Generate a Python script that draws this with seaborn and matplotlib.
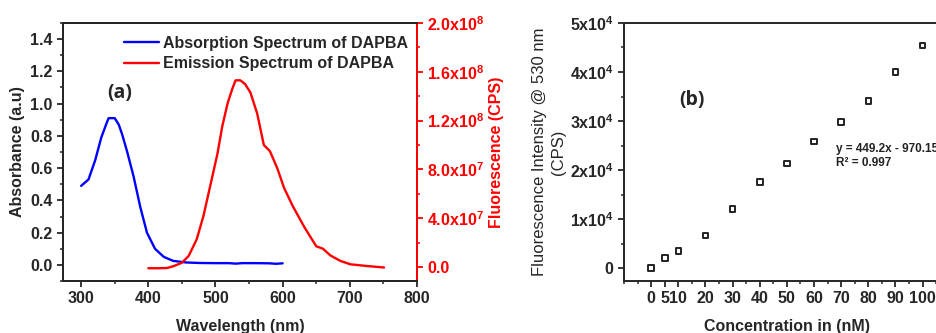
import matplotlib
matplotlib.use("Agg")
import matplotlib.pyplot as plt
from matplotlib.ticker import MultipleLocator, FixedLocator, FuncFormatter
from matplotlib.lines import Line2D
import seaborn as sns
import pandas as pd

# ---- data: panel (a) ----
abs_wavelength = [300, 311, 321, 330, 338, 341, 350, 356, 361, 368, 378, 388, 398,
                  410, 423, 437, 457, 477, 500, 520, 530, 540, 560, 580, 590, 600]
abs_value = [0.49, 0.53, 0.65, 0.79, 0.88, 0.91, 0.91, 0.87, 0.81, 0.71, 0.55, 0.36, 0.20,
             0.10, 0.05, 0.025, 0.015, 0.012, 0.011, 0.011, 0.008, 0.011, 0.011, 0.01, 0.007, 0.01]

em_wavelength = [400, 415, 428, 438, 450, 460, 472, 482, 492, 503, 510, 518, 525, 530,
                 537, 544, 552, 562, 572, 581, 592, 602, 615, 632, 650, 660, 671, 686,
                 701, 726, 751]
em_value = [-0.01e8, -0.01e8, -0.008e8, 0.008e8, 0.035e8, 0.09e8, 0.226e8, 0.416e8, 0.66e8,
            0.93e8, 1.15e8, 1.34e8, 1.46e8, 1.53e8, 1.53e8, 1.50e8, 1.43e8, 1.26e8, 1.00e8,
            0.95e8, 0.81e8, 0.65e8, 0.50e8, 0.33e8, 0.17e8, 0.15e8, 0.095e8, 0.05e8,
            0.022e8, 0.008e8, -0.004e8]

# ---- data: panel (b) ----
concentration = [0, 5, 10, 20, 30, 40, 50, 60, 70, 80, 90, 100]
intensity = [0, 2100, 3430, 6600, 12040, 17610, 21370, 25860, 29800, 34080, 40000, 45450]
conc_ticks = [0, 5, 10, 20, 30, 40, 50, 60, 70, 80, 90, 100]
fit_text = "y = 449.2x - 970.15\nR\u00b2 = 0.997"

sns.set_style("ticks")
plt.rcParams["font.family"] = ["Liberation Sans", "DejaVu Sans"]
plt.rcParams["mathtext.fontset"] = "custom"
plt.rcParams["mathtext.rm"] = "Liberation Sans"
plt.rcParams["mathtext.bf"] = "Liberation Sans:bold"
plt.rcParams["axes.linewidth"] = 1.4
plt.rcParams["xtick.major.width"] = 1.3
plt.rcParams["ytick.major.width"] = 1.3
plt.rcParams["xtick.minor.width"] = 1.1
plt.rcParams["ytick.minor.width"] = 1.1
plt.rcParams["xtick.major.size"] = 4
plt.rcParams["ytick.major.size"] = 4
plt.rcParams["xtick.minor.size"] = 2
plt.rcParams["ytick.minor.size"] = 2

fig = plt.figure(figsize=(9.36, 3.33), dpi=100)
ax = fig.add_axes([0.0673, 0.156, 0.3782, 0.775])
ax2 = ax.twinx()

df_abs = pd.DataFrame({"wl": abs_wavelength, "val": abs_value})
df_em = pd.DataFrame({"wl": em_wavelength, "val": em_value})
sns.lineplot(data=df_abs, x="wl", y="val", ax=ax, color="#0000ff", lw=1.7)
sns.lineplot(data=df_em, x="wl", y="val", ax=ax2, color="#ff0000", lw=1.7)

fs = 11.5
ax.set_xlim(273, 800)
ax.set_ylim(-0.1, 1.5)
ax2.set_ylim(-1.15e7, 2.0e8)
ax.xaxis.set_major_locator(MultipleLocator(100))
ax.xaxis.set_minor_locator(MultipleLocator(50))
ax.yaxis.set_major_locator(MultipleLocator(0.2))
ax.yaxis.set_minor_locator(MultipleLocator(0.1))
ax.yaxis.set_major_formatter(FuncFormatter(lambda v, p: f"{v:.1f}"))
ax2.yaxis.set_major_locator(MultipleLocator(4e7))
ax2.yaxis.set_minor_locator(MultipleLocator(2e7))

def sci_fmt(v, p):
    if abs(v) < 1:
        return "0.0"
    e = 0
    m = v
    while abs(m) >= 10:
        m /= 10
        e += 1
    return f"{m:.1f}x10$^{{\\mathbf{{{e}}}}}$"

ax2.yaxis.set_major_formatter(FuncFormatter(sci_fmt))
for a in (ax, ax2):
    a.tick_params(which="both", direction="out", labelsize=fs)
    for lab in a.get_xticklabels() + a.get_yticklabels():
        lab.set_fontweight("bold")
ax2.tick_params(axis="y", which="both", colors="#ff0000", labelcolor="#ff0000")
ax2.spines["right"].set_color("#ff0000")
for lab in ax2.get_yticklabels():
    lab.set_fontweight("bold")
    lab.set_color("#ff0000")

ax.set_xlabel("Wavelength (nm)", fontsize=fs, fontweight="bold", labelpad=9)
ax.set_ylabel("Absorbance (a.u)", fontsize=fs, fontweight="bold", labelpad=4)
ax2.set_ylabel("Fluorescence (CPS)", fontsize=fs, fontweight="bold", color="#ff0000", labelpad=3)
ax.text(0.16, 0.73, "(a)", transform=ax.transAxes, fontsize=14, fontweight="bold",
        ha="center", va="center", family=["Open Sans", "DejaVu Sans"])

handles = [Line2D([], [], color="#0000ff", lw=1.7), Line2D([], [], color="#ff0000", lw=1.7)]
leg = ax.legend(handles, ["Absorption Spectrum of DAPBA", "Emission Spectrum of DAPBA"],
                loc="upper left", bbox_to_anchor=(0.135, 1.0), frameon=False,
                prop={"weight": "bold", "size": fs}, handlelength=2.2, handletextpad=0.25,
                labelspacing=0.35, borderpad=0.3)

# ---- panel (b) ----
bx = fig.add_axes([0.6667, 0.156, 0.348, 0.775])
df_b = pd.DataFrame({"c": concentration, "i": intensity})
sns.scatterplot(data=df_b, x="c", y="i", ax=bx, marker="s", s=16, facecolor="none",
                edgecolor="#222222", linewidth=1.4)
bx.set_xlim(-10, 110)
bx.set_ylim(-2650, 50000)
bx.xaxis.set_major_locator(FixedLocator(conc_ticks))
bx.xaxis.set_minor_locator(MultipleLocator(5))
bx.yaxis.set_major_locator(MultipleLocator(10000))
bx.yaxis.set_minor_locator(MultipleLocator(5000))

def sci_fmt_b(v, p):
    if abs(v) < 1:
        return "0"
    e = 0
    m = v
    while abs(m) >= 10:
        m /= 10
        e += 1
    return f"{m:.0f}x10$^{{\\mathbf{{{e}}}}}$"

bx.yaxis.set_major_formatter(FuncFormatter(sci_fmt_b))
bx.tick_params(which="both", direction="out", labelsize=fs)
for lab in bx.get_xticklabels() + bx.get_yticklabels():
    lab.set_fontweight("bold")
bx.set_xlabel("Concentration in (nM)", fontsize=fs, fontweight="bold", labelpad=9)
bx.set_ylabel("Fluorescence Intensity @ 530 nm\n(CPS)", fontsize=12, labelpad=3,
              linespacing=1.3)
bx.text(0.21, 0.70, "(b)", transform=bx.transAxes, fontsize=14, fontweight="bold",
        ha="center", va="center", family=["Open Sans", "DejaVu Sans"])
bx.text(0.652, 0.485, fit_text, transform=bx.transAxes, fontsize=8.5, fontweight="bold",
        ha="left", va="center", color="#222222", linespacing=1.15)

fig.savefig("out.png", dpi=100)
